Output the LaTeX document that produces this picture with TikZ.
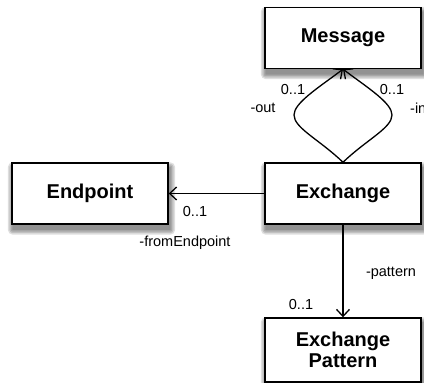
\documentclass[tikz,border=0pt]{standalone}
\usepackage{fontspec}
\setmainfont{Liberation Sans}
\usetikzlibrary{arrows.meta,calc}
\pgfdeclarelayer{background}
\pgfsetlayers{background,main}
\begin{document}
\begin{tikzpicture}[x=1pt,y=-1pt,
  cls/.style={draw=black, line width=1.4pt, fill=white, minimum width=156pt, minimum height=61pt,
    inner sep=0pt, align=center, font=\fontsize{20}{22}\selectfont\bfseries},
  shade piece/.style={fill=black, opacity=0.13},
  assoc/.style={draw=black, line width=1.3pt, -{Straight Barb[length=7pt,width=13pt,line width=1.3pt]}},
  lbl/.style={font=\fontsize{14.5}{16}\selectfont, inner sep=0pt}]
\useasboundingbox (0,0) rectangle (424,383);
\node[cls] (msg) at (343,38) {Message};
\node[cls] (ex) at (343,193.5) {Exchange};
\node[cls] (ep) at (90,193.5) {Endpoint};
\node[cls, minimum height=64pt] (pat) at (343,350) {Exchange\\[-1pt]Pattern};
\begin{pgfonlayer}{background}
\foreach \n in {msg,ex,ep,pat}{
  \foreach \s in {5,3.5,2,0.5}{
    \fill[shade piece, rounded corners=\s pt] ($(\n.north west)+(1.5-\s,5-\s)$) rectangle ($(\n.south east)+(1.5+\s,5+\s)$);
  }
}
\end{pgfonlayer}
\draw[assoc] (ex.north) .. controls (320,140) and (294,128) .. (294,115) .. controls (294,103) and (318,88) .. (msg.south);
\draw[assoc] (ex.north) .. controls (366,140) and (392,128) .. (392,115) .. controls (392,103) and (368,88) .. (msg.south);
\draw[assoc] (ex.west) -- (ep.east);
\draw[assoc] (ex.south) -- (pat.north);
\node[lbl] (l1) at (293,90) {0..1};
\node[lbl] (l2) at (263,108) {-out};
\node[lbl] (l3) at (392,90) {0..1};
\node[lbl, anchor=west] (l4) at (410,108) {-in};
\node[lbl] (l5) at (195,212) {0..1};
\node[lbl] (l6) at (185,243) {-fromEndpoint};
\node[lbl] (l7) at (391,273) {-pattern};
\node[lbl] (l8) at (301,305) {0..1};
\end{tikzpicture}
\end{document}
